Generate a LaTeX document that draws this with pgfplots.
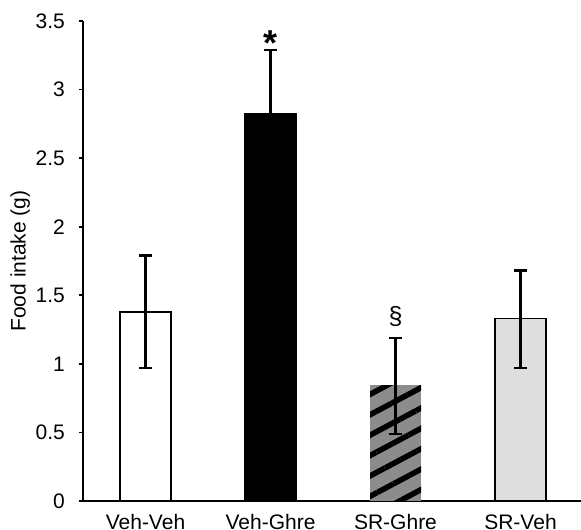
\documentclass[border=0pt]{standalone}
\usepackage{fontspec}
\setmainfont{Liberation Sans}
\usepackage{pgfplots}
\pgfplotsset{compat=1.18}
\usetikzlibrary{patterns.meta}
\newcommand{\bigf}{\fontsize{21}{25}\selectfont}
\begin{document}
\begin{tikzpicture}
\begin{axis}[
  scale only axis, width=498pt, height=480pt,
  xmin=-0.5, xmax=3.484, ymin=0, ymax=3.5,
  axis x line=bottom, axis y line=left,
  axis line style={-, line width=1.8pt},
  clip=false,
  ybar, bar width=51pt,
  xtick={0,1,2,3}, xticklabels={Veh-Veh,Veh-Ghre,SR-Ghre,SR-Veh},
  xtick style={draw=none},
  ytick={0,0.5,1,1.5,2,2.5,3,3.5},
  /pgf/number format/assume math mode=true,
  yticklabel={\bigf\pgfmathprintnumber{\tick}},
  tick align=outside, major tick length=4pt,
  ytick style={line width=1.6pt, black},
  xticklabel style={font=\bigf, anchor=base, yshift=-25pt},
  yticklabel style={font=\bigf, anchor=east, inner sep=0pt, xshift=-14pt},
  ylabel={Food intake (g)},
  ylabel style={font=\bigf, at={(axis description cs:-0.126,0.5)}, anchor=center},
  error bars/error bar style={line width=2.2pt, black},
  error bars/error mark options={rotate=90, mark size=6.5pt, line width=2.2pt, black},
]
\addplot[fill=white, draw=black, line width=1.8pt, bar shift=0pt,
  error bars/.cd, y dir=both, y explicit]
  coordinates {(0,1.38) += (0,0.41) -= (0,0.41)};
\addplot[fill=black, draw=black, line width=1.8pt, bar shift=0pt,
  error bars/.cd, y dir=both, y explicit]
  coordinates {(1,2.82) += (0,0.47) -= (0,0.47)};
\addplot[fill={rgb,255:red,140;green,140;blue,140}, draw=none, bar shift=0pt,
  postaction={pattern={Lines[angle=28,distance=18pt,line width=5.5pt]}, pattern color=black},
  error bars/.cd, y dir=both, y explicit]
  coordinates {(2,0.845) += (0,0.345) -= (0,0.355)};
\addplot[fill={rgb,255:red,222;green,222;blue,222}, draw=black, line width=1.8pt, bar shift=0pt,
  error bars/.cd, y dir=both, y explicit]
  coordinates {(3,1.33) += (0,0.35) -= (0,0.36)};
\node[font=\fontsize{36}{36}\selectfont\bfseries, anchor=base] at (axis cs:1,3.25) {*};
\node[font=\fontsize{25}{28}\selectfont, anchor=base] at (axis cs:2,1.29) {\S};
\end{axis}
\pgfresetboundingbox
\path[use as bounding box] ([xshift=-83pt,yshift=-29pt]current axis.south west) rectangle ([yshift=21pt]current axis.north east);
\end{tikzpicture}
\end{document}
